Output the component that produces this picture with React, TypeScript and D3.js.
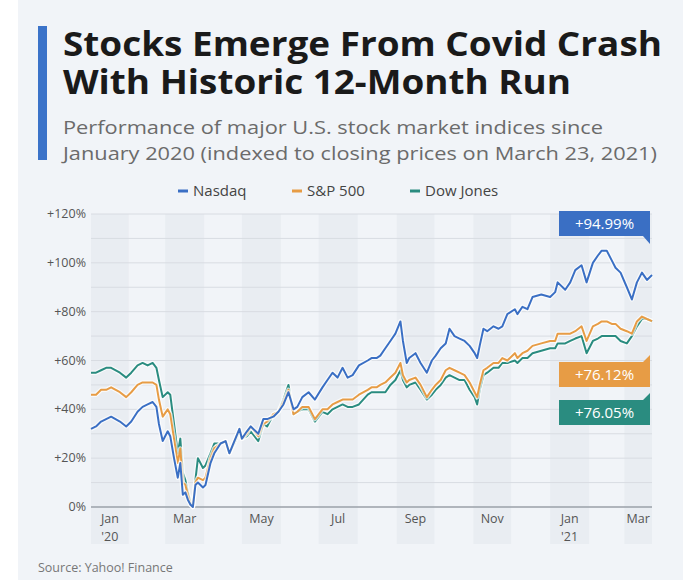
import React from "react";
import * as d3 from "d3";

const dates = [
  "2020-01-02","2020-01-06","2020-01-10","2020-01-14","2020-01-18","2020-01-25","2020-01-30","2020-02-03","2020-02-08","2020-02-12",
  "2020-02-16","2020-02-20","2020-02-23","2020-02-25","2020-02-28","2020-03-03","2020-03-05","2020-03-08","2020-03-11","2020-03-13",
  "2020-03-15","2020-03-17","2020-03-19","2020-03-21","2020-03-23","2020-03-25","2020-03-27","2020-03-31","2020-04-02","2020-04-06",
  "2020-04-09","2020-04-14","2020-04-18","2020-04-21","2020-04-25","2020-04-29","2020-05-01","2020-05-05","2020-05-08","2020-05-14",
  "2020-05-18","2020-05-21","2020-05-26","2020-05-30","2020-06-03","2020-06-07","2020-06-11","2020-06-14","2020-06-18","2020-06-23",
  "2020-06-28","2020-07-04","2020-07-08","2020-07-12","2020-07-16","2020-07-20","2020-07-24","2020-07-28","2020-08-02","2020-08-09",
  "2020-08-12","2020-08-16","2020-08-19","2020-08-23","2020-08-27","2020-08-31","2020-09-04","2020-09-06","2020-09-09","2020-09-11",
  "2020-09-16","2020-09-20","2020-09-25","2020-09-29","2020-10-02","2020-10-06","2020-10-10","2020-10-13","2020-10-17","2020-10-21",
  "2020-10-25","2020-10-29","2020-11-02","2020-11-04","2020-11-06","2020-11-09","2020-11-12","2020-11-17","2020-11-21","2020-11-24",
  "2020-11-28","2020-12-04","2020-12-06","2020-12-10","2020-12-14","2020-12-18","2020-12-25","2021-01-01","2021-01-05","2021-01-07",
  "2021-01-13","2021-01-17","2021-01-21","2021-01-26","2021-01-30","2021-02-04","2021-02-08","2021-02-11","2021-02-15","2021-02-19",
  "2021-02-22","2021-02-26","2021-03-03","2021-03-07","2021-03-11","2021-03-15","2021-03-19","2021-03-23"
];

const nasdaq = [
  32,33,35,36,37,35,33,35,39,41,
  42,43,41,34,27,31,29,20,12,18,
  5,6,3,1,0,9,10,8,9,18,
  22,26,27,22,27,32,28,31,33,30,
  36,36,37,39,42,47,40,41,45,47,
  44,49,52,55,53,57,53,54,58,60,
  61,61,62,65,68,71,76,68,59,61,
  63,59,55,60,62,65,67,73,70,69,
  68,66,63,61,66,73,72,74,73,74,
  79,81,79,82,81,86,87,86,88,92,
  89,92,97,99,92,100,103,105,105,101,
  98,96,90,85,92,96,93,94.99
];

const sp500 = [
  46,46,48,48,49,47,45,47,50,51,
  51,51,50,44,37,40,38,28,18,24,
  10,9,5,1,0,10,12,11,12,20,
  24,26,27,22,27,32,28,30,33,29,
  34,35,38,39,43,48,38,39,41,41,
  36,40,40,42,43,44,44,44,46,48,
  49,49,50,51,53,55,59,54,51,52,
  53,50,45,48,50,52,56,57,56,55,
  54,51,47,45,50,56,57,59,59,61,
  60,63,61,63,64,66,67,68,68,71,
  71,71,72,74,68,74,75,76,76,75,
  75,73,72,71,76,78,77,76.12
];

const dow = [
  55,55,56,57,57,55,53,55,58,59,
  58,59,57,52,45,47,46,34,22,28,
  14,11,6,2,0,11,20,16,17,22,
  26,26,27,22,26,31,28,29,31,27,
  34,33,38,39,44,50,38,39,40,40,
  35,39,38,40,41,42,41,41,42,46,
  47,47,47,47,50,52,56,52,49,50,
  51,48,44,46,48,50,53,54,53,52,
  52,48,45,42,48,54,55,57,57,59,
  59,60,59,61,61,63,64,65,65,67,
  67,68,69,70,63,68,69,70,70,70,
  70,68,67,70,74,77,77,76.05
];

const seriesNames = ["Nasdaq", "S&P 500", "Dow Jones"];
const seriesColors = ["#3a6fc4", "#e79c45", "#2a8c80"];
const endLabels = ["+94.99%", "+76.12%", "+76.05%"];
const yTickValues = [0, 20, 40, 60, 80, 100, 120];
const yTickLabels = ["0%", "+20%", "+40%", "+60%", "+80%", "+100%", "+120%"];
const xMonthLabels = ["Jan", "Mar", "May", "Jul", "Sep", "Nov", "Jan", "Mar"];
const xYearLabels = ["'20", "", "", "", "", "", "'21", ""];

const FONT = "'Open Sans', 'DejaVu Sans', sans-serif";

export default function App() {
  const parse = d3.timeParse("%Y-%m-%d");
  const dts = dates.map((d) => parse(d) as Date);
  const start = dts[0];
  const end = dts[dts.length - 1];

  const x = d3.scaleTime().domain([start, end]).range([91, 652]);
  const y = d3.scaleLinear().domain([0, 120]).range([507, 214]);

  const allSeries = [nasdaq, sp500, dow];
  const line = d3
    .line<number>()
    .x((_, i) => x(dts[i]))
    .y((v) => y(v));

  const months = d3.timeMonth.range(d3.timeMonth.floor(start), end);
  const bands = months
    .filter((m) => m.getMonth() % 2 === 0)
    .map((m) => {
      const a = m < start ? start : m;
      const nxt = d3.timeMonth.offset(m, 1);
      const b = nxt > end ? end : nxt;
      return { x0: x(a), x1: x(b) };
    });

  const grid = d3.range(0, 121, 10);

  const boxX0 = 559;
  const boxX1 = 650;
  const boxH = 25;
  const boxTops = [211, 362, 400];
  const notchUp = [false, true, true];

  const boxPath = (top: number, up: boolean) => {
    const b = top + boxH;
    if (!up) {
      return `M${boxX0},${top}H${boxX1}V${b + 8}L${boxX1 - 7},${b}H${boxX0}Z`;
    }
    return `M${boxX0},${top}H${boxX1 - 7}L${boxX1},${top - 7}V${b}H${boxX0}Z`;
  };

  const legendX = [178, 292, 410];

  return (
    <svg
      width={696}
      height={588}
      style={{ position: "absolute", left: 0, top: 0, background: "#ffffff" }}
    >
      <rect x={18} y={0} width={665} height={580} fill="#f1f4f8" />
      <rect x={38} y={26} width={9} height={134} fill="#3b73c9" />
      <text x={63} y={56} fontFamily={FONT} fontWeight={700} fontSize={34} fill="#1a1a1a" textLength={599} lengthAdjust="spacingAndGlyphs">
        Stocks Emerge From Covid Crash
      </text>
      <text x={63} y={94} fontFamily={FONT} fontWeight={700} fontSize={34} fill="#1a1a1a" textLength={508} lengthAdjust="spacingAndGlyphs">
        With Historic 12-Month Run
      </text>
      <text x={63} y={134} fontFamily={FONT} fontSize={18} fill="#6b6b6b" textLength={540} lengthAdjust="spacingAndGlyphs">
        Performance of major U.S. stock market indices since
      </text>
      <text x={63} y={160} fontFamily={FONT} fontSize={18} fill="#6b6b6b" textLength={594} lengthAdjust="spacingAndGlyphs">
        January 2020 (indexed to closing prices on March 23, 2021)
      </text>

      {seriesNames.map((n, i) => (
        <g key={n}>
          <line x1={legendX[i]} x2={legendX[i] + 10} y1={191} y2={191} stroke={seriesColors[i]} strokeWidth={3} />
          <text x={legendX[i] + 15} y={196} fontFamily={FONT} fontSize={15} fill="#444">
            {n}
          </text>
        </g>
      ))}

      {bands.map((b, i) => (
        <rect key={i} x={b.x0} y={214} width={b.x1 - b.x0} height={330} fill="#e9edf2" />
      ))}

      {grid.map((g) => (
        <line key={g} x1={91} x2={652} y1={y(g)} y2={y(g)} stroke={g === 0 ? "#9aa0a8" : "#d8dce2"} strokeWidth={g === 0 ? 1.5 : 1} />
      ))}

      {yTickValues.map((v, i) => (
        <text key={v} x={86} y={y(v) + 4} textAnchor="end" fontFamily={FONT} fontSize={12.5} fill="#555">
          {yTickLabels[i]}
        </text>
      ))}

      {bands.map((b, i) => (
        <g key={i}>
          <text x={(b.x0 + b.x1) / 2} y={523} textAnchor="middle" fontFamily={FONT} fontSize={12.5} fill="#555">
            {xMonthLabels[i]}
          </text>
          {xYearLabels[i] && (
            <text x={(b.x0 + b.x1) / 2} y={541} textAnchor="middle" fontFamily={FONT} fontSize={12.5} fill="#555">
              {xYearLabels[i]}
            </text>
          )}
        </g>
      ))}

      {[2, 1, 0].map((si) => (
        <g key={si}>
          <path d={line(allSeries[si]) || ""} fill="none" stroke="#ffffff" strokeWidth={4.5} strokeOpacity={0.7} strokeLinejoin="round" />
          <path d={line(allSeries[si]) || ""} fill="none" stroke={seriesColors[si]} strokeWidth={2} strokeLinejoin="round" />
        </g>
      ))}

      {endLabels.map((l, i) => (
        <g key={l}>
          <path d={boxPath(boxTops[i], notchUp[i])} fill={seriesColors[i]} />
          <text x={(boxX0 + boxX1) / 2} y={boxTops[i] + 18} textAnchor="middle" fontFamily={FONT} fontSize={15} fill="#ffffff">
            {l}
          </text>
        </g>
      ))}

      <text x={38} y={572} fontFamily={FONT} fontSize={12.5} fill="#777">
        Source: Yahoo! Finance
      </text>
    </svg>
  );
}
